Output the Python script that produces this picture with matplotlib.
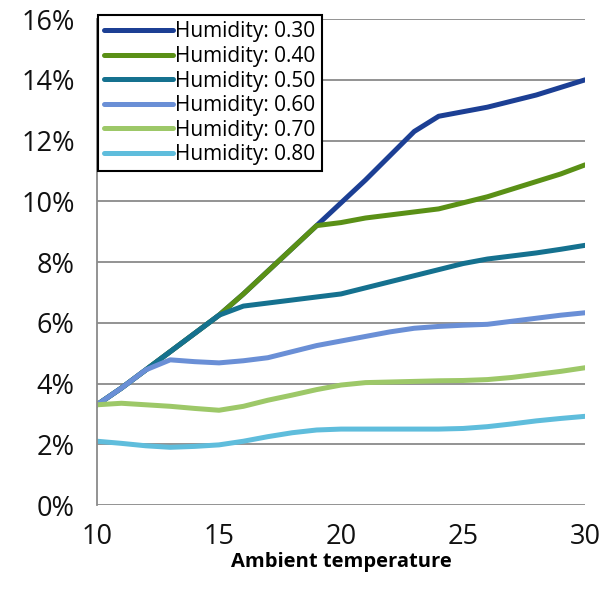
import matplotlib.pyplot as plt
from matplotlib.ticker import FuncFormatter

# Ambient temperature (x) and share (%) for each humidity level
temps = list(range(10, 31))
hum_030 = [3.3, 3.85, 4.45, 5.05, 5.65, 6.25, 6.95, 7.7, 8.45, 9.2, 9.95,
           10.7, 11.5, 12.3, 12.8, 12.95, 13.1, 13.3, 13.5, 13.75, 14.0]
hum_040 = [3.3, 3.85, 4.45, 5.05, 5.65, 6.25, 6.95, 7.7, 8.45, 9.2, 9.3,
           9.45, 9.55, 9.65, 9.75, 9.95, 10.15, 10.4, 10.65, 10.9, 11.2]
hum_050 = [3.3, 3.85, 4.45, 5.05, 5.65, 6.25, 6.55, 6.65, 6.75, 6.85, 6.95,
           7.15, 7.35, 7.55, 7.75, 7.95, 8.1, 8.2, 8.3, 8.42, 8.55]
hum_060 = [3.3, 3.85, 4.45, 4.78, 4.72, 4.68, 4.75, 4.85, 5.05, 5.25, 5.4,
           5.55, 5.7, 5.82, 5.88, 5.92, 5.95, 6.05, 6.15, 6.25, 6.33]
hum_070 = [3.3, 3.35, 3.3, 3.25, 3.18, 3.12, 3.25, 3.45, 3.62, 3.8, 3.95,
           4.03, 4.05, 4.07, 4.09, 4.1, 4.13, 4.2, 4.3, 4.4, 4.52]
hum_080 = [2.1, 2.03, 1.95, 1.9, 1.93, 1.98, 2.1, 2.25, 2.38, 2.47, 2.5,
           2.5, 2.5, 2.5, 2.5, 2.52, 2.58, 2.67, 2.77, 2.85, 2.92]

labels = ['Humidity: 0.30', 'Humidity: 0.40', 'Humidity: 0.50',
          'Humidity: 0.60', 'Humidity: 0.70', 'Humidity: 0.80']
colors = ['#1c3f94', '#5a9016', '#15718f', '#6a8fd6', '#9dc868', '#5fbddc']
series = [hum_030, hum_040, hum_050, hum_060, hum_070, hum_080]

plt.rcParams['font.family'] = ['Open Sans', 'DejaVu Sans']

fig = plt.figure(figsize=(6.12, 5.89), dpi=100)
ax = fig.add_axes([0.1585, 0.1426, 0.7975, 0.825])

# later series are drawn on top where they overlap
for vals, col, lab in zip(series, colors, labels):
    ax.plot(temps, vals, color=col, lw=3.6, label=lab,
            solid_capstyle='round', solid_joinstyle='round')

ax.set_xlim(10, 30)
ax.set_ylim(0, 16)
ax.set_xticks([10, 15, 20, 25, 30])
ax.set_yticks(range(0, 17, 2))
ax.yaxis.set_major_formatter(FuncFormatter(lambda v, p: f'{int(v)}%'))
ax.tick_params(axis='both', length=0, labelsize=19.5, colors='#111111')
ax.tick_params(axis='y', pad=16)
ax.tick_params(axis='x', pad=13)

ax.grid(axis='y', color='#8a8a8a', lw=1.3)
ax.set_axisbelow(True)
for s in ['top', 'right', 'bottom']:
    ax.spines[s].set_visible(False)
ax.spines['left'].set_color('#8a8a8a')
ax.spines['left'].set_linewidth(1.3)

ax.set_xlabel('Ambient temperature', fontsize=14.5, fontweight='bold', labelpad=1)

leg = ax.legend(loc='upper left', bbox_to_anchor=(0.002, 1.008), fontsize=15,
                handlelength=3.3, handletextpad=0.1, labelspacing=0.17,
                borderpad=0.3, borderaxespad=0.0, fancybox=False,
                framealpha=1, edgecolor='black')
leg.get_frame().set_linewidth(1.5)

fig.savefig('out.png', dpi=100)
